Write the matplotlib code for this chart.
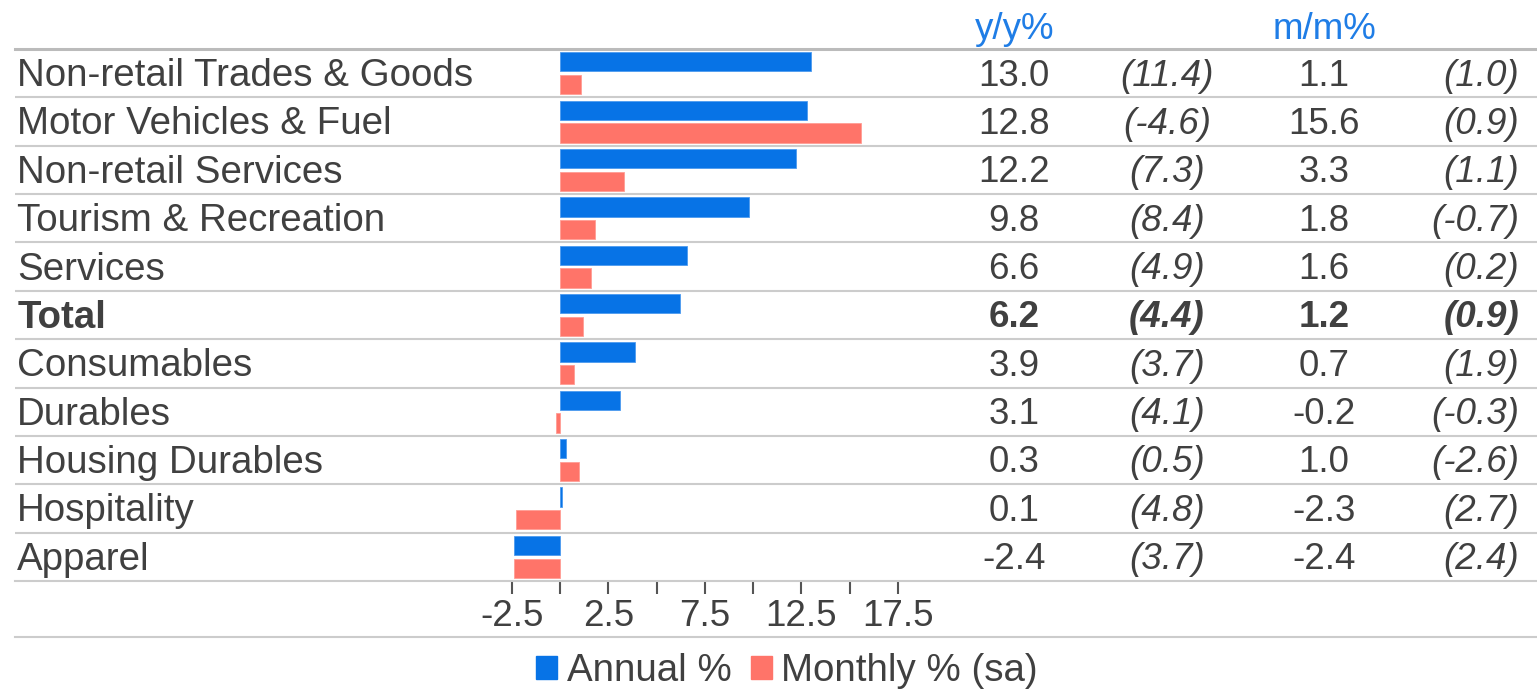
import numpy as np
import matplotlib
matplotlib.use("Agg")
import matplotlib.pyplot as plt
from matplotlib.patches import Patch
from matplotlib.lines import Line2D

plt.rcParams["font.family"] = ["Liberation Sans", "DejaVu Sans"]
plt.rcParams["axes.unicode_minus"] = False

categories = [
    "Non-retail Trades & Goods", "Motor Vehicles & Fuel", "Non-retail Services",
    "Tourism & Recreation", "Services", "Total", "Consumables", "Durables",
    "Housing Durables", "Hospitality", "Apparel",
]
annual = [13.0, 12.8, 12.2, 9.8, 6.6, 6.2, 3.9, 3.1, 0.3, 0.1, -2.4]
annual_prev = [11.4, -4.6, 7.3, 8.4, 4.9, 4.4, 3.7, 4.1, 0.5, 4.8, 3.7]
monthly = [1.1, 15.6, 3.3, 1.8, 1.6, 1.2, 0.7, -0.2, 1.0, -2.3, -2.4]
monthly_prev = [1.0, 0.9, 1.1, -0.7, 0.2, 0.9, 1.9, -0.3, -2.6, 2.7, 2.4]
tick_values = [-2.5, 0, 2.5, 5, 7.5, 10, 12.5, 15, 17.5]
tick_labels = ["-2.5", "", "2.5", "", "7.5", "", "12.5", "", "17.5"]

BLUE = "#0773E6"
RED = "#FF7469"
HEAD = "#1F7DE6"
TXT = "#404040"
GRID = "#CCCCCC"
FS = 26.5
FS_CAT = 27.7

W, H = 1537, 693
fig = plt.figure(figsize=(W / 100, H / 100), dpi=100)
ax = fig.add_axes([15 / W, 112 / H, 1522 / W, 532 / H])

n = len(categories)
y = np.arange(n)
ax.barh(y - 0.235, annual, height=0.4, color=BLUE, edgecolor="#4d9bef", linewidth=0.6)
ax.barh(y + 0.235, monthly, height=0.4, color=RED, edgecolor="#ff9d95", linewidth=0.6)

scale = 19.315  # px per unit
ax.set_xlim((15 - 560) / scale, (1537 - 560) / scale)
ax.set_ylim(n - 0.5, -0.5)

# row separators
for b in np.arange(0.5, n - 0.5, 1):
    ax.axhline(b, color=GRID, lw=1.5, zorder=0)
ax.axhline(-0.5, color="#BBBBBB", lw=2.2, zorder=0, clip_on=False)

for s in ["top", "left", "right"]:
    ax.spines[s].set_visible(False)
ax.spines["bottom"].set_color(GRID)
ax.spines["bottom"].set_linewidth(1.5)
ax.set_yticks([])
ax.set_xticks(tick_values)
ax.set_xticklabels(tick_labels)
ax.tick_params(axis="x", length=9, width=1.5, color="#555555", labelsize=FS,
               labelcolor=TXT, pad=4)

# category labels and table
tr = ax.get_yaxis_transform()
dy = 0.06
for i, cat in enumerate(categories):
    weight = "bold" if cat == "Total" else "normal"
    ax.text(0.0015, i + dy, cat, transform=tr, ha="left", va="center", fontsize=FS_CAT,
            color=TXT, fontweight=weight)
    ax.text((1014 - 15) / 1522, i + dy, f"{annual[i]:.1f}", transform=tr, ha="center",
            va="center", fontsize=FS, color=TXT, fontweight=weight)
    ax.text((1167 - 15) / 1522, i + dy, f"({annual_prev[i]:.1f})", transform=tr,
            ha="center", va="center", fontsize=FS, color=TXT, fontweight=weight,
            style="italic")
    ax.text((1324 - 15) / 1522, i + dy, f"{monthly[i]:.1f}", transform=tr, ha="center",
            va="center", fontsize=FS, color=TXT, fontweight=weight)
    ax.text((1519 - 15) / 1522, i + dy, f"({monthly_prev[i]:.1f})", transform=tr,
            ha="right", va="center", fontsize=FS, color=TXT, fontweight=weight,
            style="italic")

ax.text((1015 - 15) / 1522, -0.9, "y/y%", transform=tr, ha="center", va="center",
        fontsize=FS, color=HEAD)
ax.text((1324 - 15) / 1522, -0.9, "m/m%", transform=tr, ha="center", va="center",
        fontsize=FS, color=HEAD)

# line under the tick labels
fig.add_artist(Line2D([15 / W, 1.0], [1 - 637 / H, 1 - 637 / H], color=GRID, lw=1.5))

handles = [Patch(color=BLUE, label="Annual %"), Patch(color=RED, label="Monthly % (sa)")]
leg = fig.legend(handles=handles, loc="center", bbox_to_anchor=(787 / W, 22 / H), ncol=2,
                 frameon=False, fontsize=FS_CAT, handlelength=0.55, handleheight=0.55,
                 handletextpad=0.25, columnspacing=0.5, borderpad=0)
for t in leg.get_texts():
    t.set_color(TXT)

fig.savefig("out.png", dpi=100, facecolor="white")
